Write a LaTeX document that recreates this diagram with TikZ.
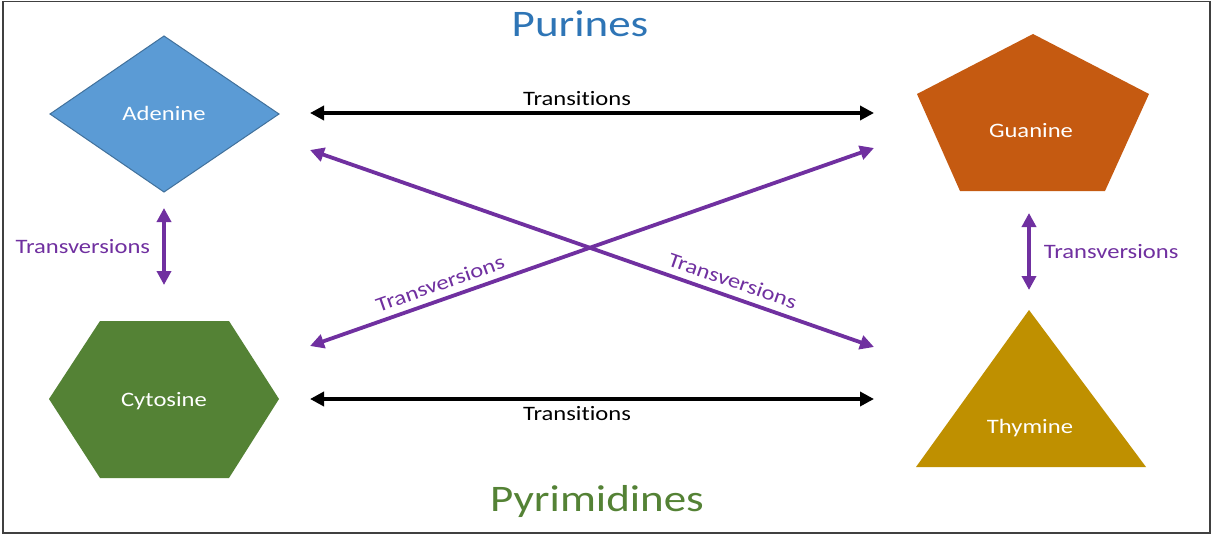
\documentclass[tikz,border=0pt]{standalone}
\usepackage{fontspec}
\setmainfont{Carlito}[FakeStretch=1.2, Ligatures=NoCommon]
\usetikzlibrary{arrows.meta}
\definecolor{pblue}{HTML}{2E75B6}
\definecolor{pgreen}{HTML}{548235}
\definecolor{adfill}{HTML}{5B9BD5}
\definecolor{adline}{HTML}{41719C}
\definecolor{gufill}{HTML}{C55A11}
\definecolor{thfill}{HTML}{BF9000}
\definecolor{tvpurple}{HTML}{7030A0}
\tikzset{
  base label/.style={font=\fontsize{20.5}{22}\selectfont, inner sep=0pt, anchor=base},
  shapelabel/.style={base label, text=white},
  title/.style={font=\fontsize{37.5}{40}\selectfont, inner sep=0pt, anchor=base},
  tip/.style={Triangle[length=14pt,width=14pt]},
  trans/.style={line width=3.6pt, black, {Triangle[length=14pt,width=14pt]}-{Triangle[length=14pt,width=14pt]}},
  transv/.style={line width=3.8pt, tvpurple, {Triangle[length=14pt,width=14pt]}-{Triangle[length=14pt,width=14pt]}},
  tvlabel/.style={font=\fontsize{20.5}{22}\selectfont, text=tvpurple, inner sep=0pt},
}
\begin{document}
\begin{tikzpicture}[x=1pt,y=-1pt]
\useasboundingbox (0,0) rectangle (1214,535);
\fill[white] (0,0) rectangle (1214,535);
% frame
\draw[line width=1.8pt, black!75] (3,1.5) rectangle (1210,533);
% shapes
\filldraw[fill=adfill, draw=adline, line width=1pt] (50,114) -- (164,36) -- (279,114) -- (164,192) -- cycle;
\fill[gufill] (1033,34) -- (1149,94) -- (1105,191) -- (960,191) -- (917,94) -- cycle;
\fill[pgreen] (49,399) -- (100,321) -- (229,321) -- (279,399) -- (229,478) -- (100,478) -- cycle;
\fill[thfill] (1029,310) -- (1146,467) -- (916,467) -- cycle;
% shape labels
\node[shapelabel] (ade) at (164,120) {Adenine};
\node[shapelabel] (gua) at (1031,137) {Guanine};
\node[shapelabel] (cyt) at (164,406) {Cytosine};
\node[shapelabel] (thy) at (1030,433) {Thymine};
% titles
\node[title, text=pblue] (pur) at (580,37) {Purines};
\node[title, text=pgreen] (pyr) at (597,511) {Pyrimidines};
% connector end points
\coordinate (aR) at (310,113);
\coordinate (gL) at (874,113);
\coordinate (cR) at (310,399);
\coordinate (tL) at (874,399);
\coordinate (aX) at (310,150);
\coordinate (tX) at (874,347);
\coordinate (gX) at (874,148);
\coordinate (cX) at (310,346);
\coordinate (aB) at (164,208);
\coordinate (cT) at (164,285);
\coordinate (gB) at (1029,213);
\coordinate (tT) at (1029,290);
% arrows
\draw[trans] (aR) -- (gL);
\node[base label] (tr1) at (577,105) {Transitions};
\draw[trans] (cR) -- (tL);
\node[base label] (tr2) at (577,420) {Transitions};
\draw[transv] (aX) -- node[tvlabel, pos=0.74, sloped, above=7pt] (tv1) {Transversions} (tX);
\draw[transv] (cX) -- node[tvlabel, pos=0.24, sloped, above=7pt] (tv2) {Transversions} (gX);
\draw[transv] (aB) -- node[tvlabel, left=12pt] (tv3) {Transversions} (cT);
\draw[transv] (gB) -- node[tvlabel, right=13pt] (tv4) {Transversions} (tT);
\end{tikzpicture}
\end{document}
